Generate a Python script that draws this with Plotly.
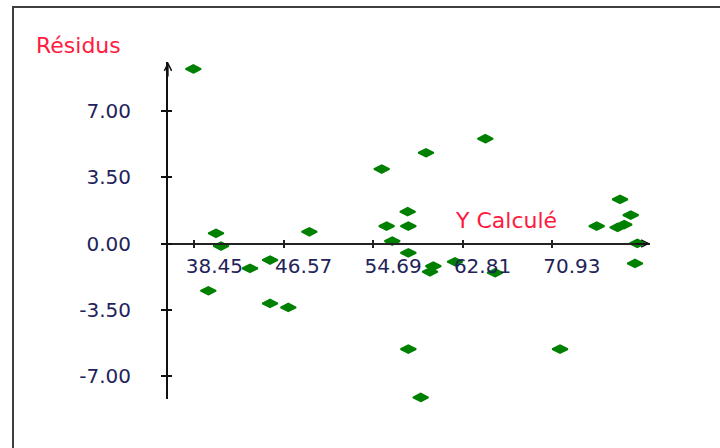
import plotly.graph_objects as go

# Data (Y calculé vs résidus)
y_calcule = [38.36, 40.42, 40.88, 39.72, 43.51, 45.33, 45.33, 46.99, 48.90,
             55.47, 55.92, 56.43, 57.83, 57.89, 57.89, 57.89, 59.01, 59.49,
             59.86, 60.16, 62.13, 64.88, 65.76, 71.67, 75.00, 76.90, 77.50,
             77.12, 78.09, 78.69, 78.48]
residus = [9.21, 0.54, -0.13, -2.49, -1.31, -0.87, -3.16, -3.37, 0.62,
           3.93, 0.92, 0.13, 1.68, 0.92, -0.49, -5.57, -8.12, 4.79,
           -1.49, -1.19, -0.96, 5.53, -1.54, -5.57, 0.92, 0.85, 1.00,
           2.33, 1.50, 0.01, -1.05]

x_ticks = [38.45, 46.57, 54.69, 62.81, 70.93]
x_tick_labels = ["38.45", "46.57", "54.69", "62.81", "70.93"]
y_ticks = [-7.0, -3.5, 0.0, 3.5, 7.0]
y_tick_labels = ["-7.00", "-3.50", "0.00", "3.50", "7.00"]

x_range = [36.06, 79.84]
y_range = [-8.20, 9.578]

FONT = "DejaVu Sans"
TICK_COLOR = "#23235a"
LABEL_COLOR = "#ff1a40"

x_axis_pos = (0 - y_range[0]) / (y_range[1] - y_range[0])

fig = go.Figure()
fig.add_trace(go.Scatter(
    x=y_calcule, y=residus, mode="markers",
    marker=dict(symbol="diamond-wide", size=11, color="#008000",
                line=dict(color="#008000", width=1.8)),
    cliponaxis=False, showlegend=False, hoverinfo="x+y"))
# empty trace to host the overlay axes (inside half of crossing ticks)
fig.add_trace(go.Scatter(x=[], y=[], xaxis="x2", yaxis="y2", showlegend=False))

fig.update_layout(
    width=720, height=448,
    margin=dict(l=168, r=70, t=62, b=49),
    paper_bgcolor="white", plot_bgcolor="white",
    font=dict(family=FONT, size=20, color=TICK_COLOR),
    xaxis=dict(range=x_range, anchor="free", position=x_axis_pos,
               showgrid=False, zeroline=False, showline=True,
               linecolor="#222222", linewidth=1.5,
               tickmode="array", tickvals=x_ticks, ticktext=x_tick_labels,
               ticks="outside", ticklen=4, tickwidth=1.5, tickcolor="#222222",
               ticklabelstandoff=1, ticklabelshift=20,
               tickfont=dict(family=FONT, size=20, color=TICK_COLOR)),
    yaxis=dict(range=y_range, showgrid=False, zeroline=False, showline=True,
               linecolor="#111111", linewidth=2,
               tickmode="array", tickvals=y_ticks, ticktext=y_tick_labels,
               ticks="outside", ticklen=5, tickwidth=1.5, tickcolor="#111111",
               ticklabelstandoff=26,
               tickfont=dict(family=FONT, size=20, color=TICK_COLOR)),
    xaxis2=dict(overlaying="x", matches="x", anchor="free", position=x_axis_pos,
                showgrid=False, zeroline=False, showline=False,
                tickmode="array", tickvals=x_ticks, ticks="inside", ticklen=4,
                tickwidth=1.5, tickcolor="#222222", showticklabels=False),
    yaxis2=dict(overlaying="y", matches="y", anchor="x2",
                showgrid=False, zeroline=False, showline=False,
                tickmode="array", tickvals=y_ticks, ticks="inside", ticklen=4,
                tickwidth=1.5, tickcolor="#111111", showticklabels=False),
    shapes=[dict(type="rect", xref="paper", yref="paper",
                 x0=-0.3216, x1=2.0, y0=-1.0, y1=1.163,
                 line=dict(color="#404040", width=2), layer="below")],
    annotations=[
        dict(text="Résidus", xref="paper", yref="paper", x=-0.278, y=1.049,
             xanchor="left", yanchor="middle", showarrow=False,
             font=dict(family=FONT, size=22, color=LABEL_COLOR)),
        dict(text="Y Calculé", xref="paper", yref="paper", x=0.592, y=0.531,
             xanchor="left", yanchor="middle", showarrow=False,
             font=dict(family=FONT, size=22, color=LABEL_COLOR)),
        dict(text="", xref="paper", yref="paper", x=0, y=1.0, ax=0, ay=16,
             showarrow=True, arrowhead=5, arrowsize=1.1, arrowwidth=1.3,
             arrowcolor="#111111"),
        dict(text="", xref="paper", yref="y", x=1.0, y=0, ax=-16, ay=0,
             showarrow=True, arrowhead=5, arrowsize=1.1, arrowwidth=1.3,
             arrowcolor="#111111"),
    ],
)

fig.write_html("out.html")
